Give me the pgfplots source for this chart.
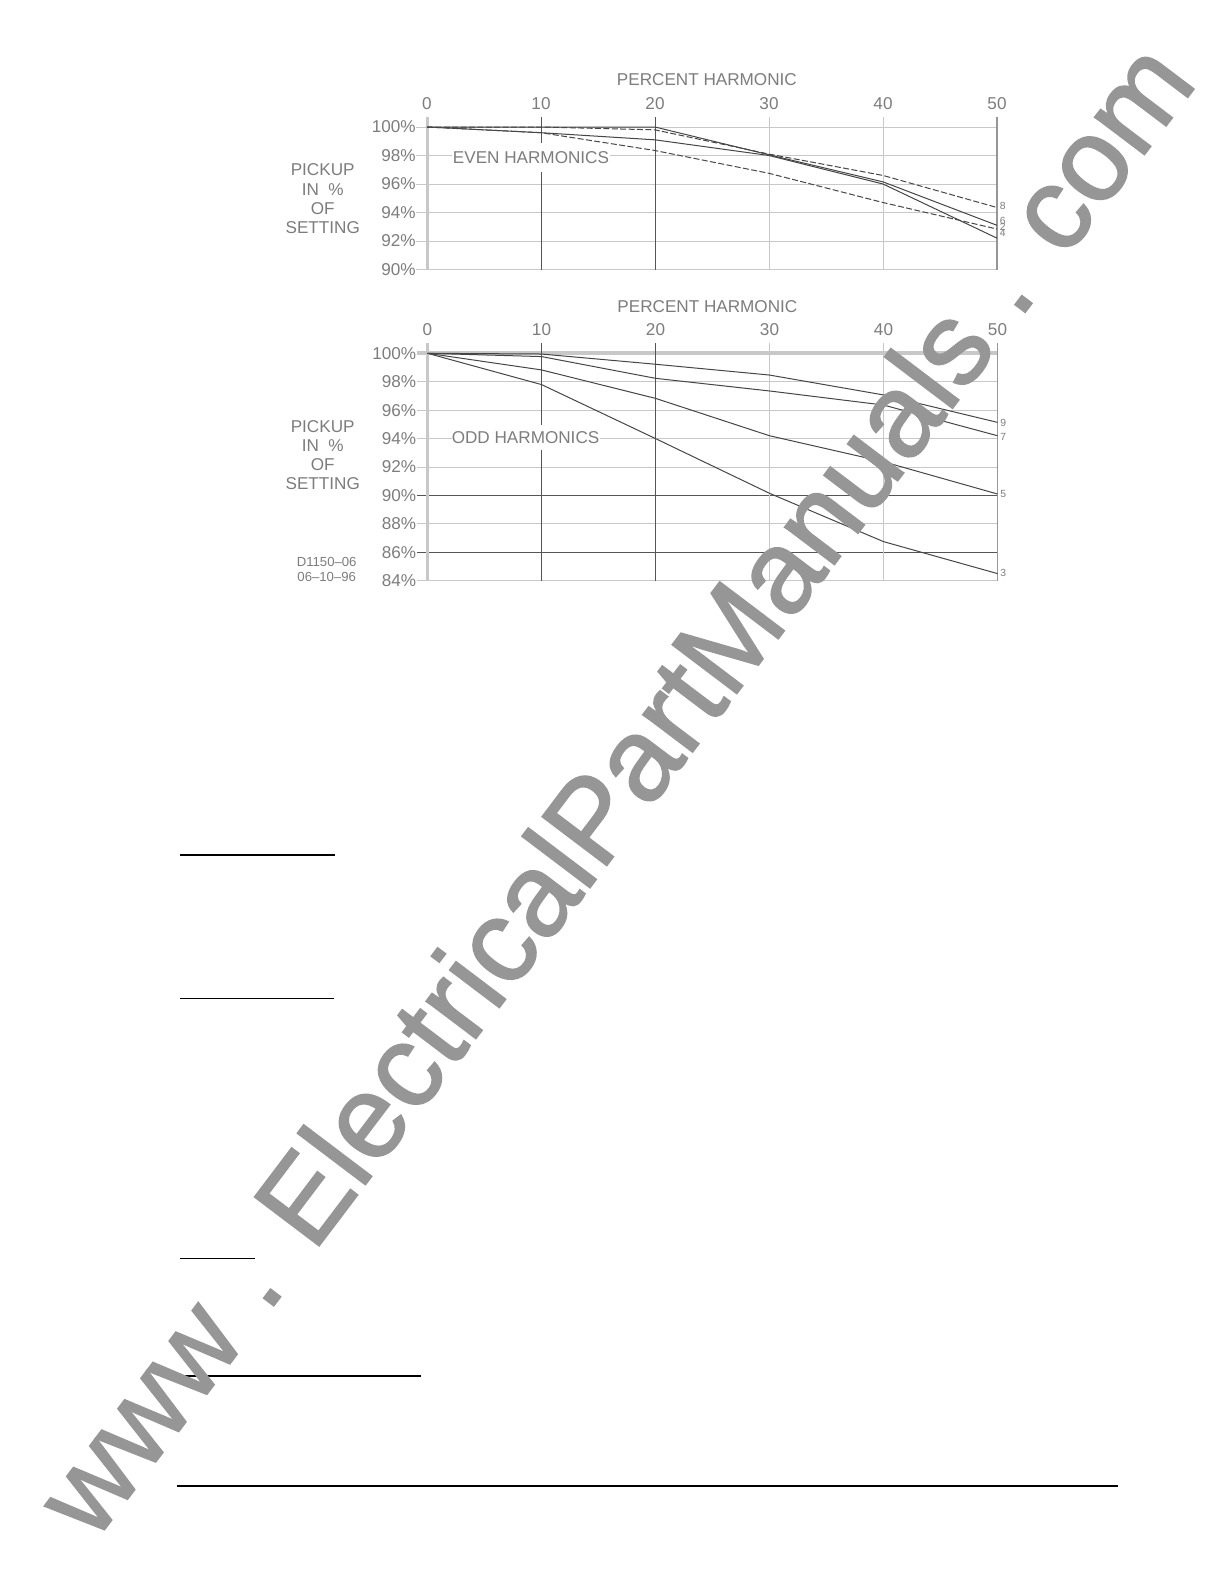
\documentclass[border=0pt]{standalone}
\usepackage{fontspec}
\setmainfont{Liberation Sans}
\newfontfamily\wmfont[FakeBold=1.4]{Liberation Sans}
\usepackage{pgfplots}
\pgfplotsset{compat=1.18}

\definecolor{gridlight}{RGB}{200,200,200}
\definecolor{griddark}{RGB}{85,85,85}
\definecolor{gridmid}{RGB}{150,150,150}
\definecolor{curve}{RGB}{70,70,70}
\definecolor{txt}{RGB}{125,125,125}
\definecolor{wm}{RGB}{150,150,150}

\newcommand{\lab}{\fontsize{8.6}{10}\selectfont}

\pgfplotsset{
  harm/.style={
    scale only axis, width=285bp, clip=false,
    xmin=0, xmax=50, xtick={0,10,20,30,40,50},
    xticklabels={0,10,20,30,40,50},
    axis line style={draw=none}, major tick length=0pt,
    tick label style={font=\lab, text=txt},
    xticklabel pos=upper,
    xticklabel style={anchor=center, yshift=11.75bp},
    yticklabel style={anchor=east, inner sep=0pt, xshift=-5.5bp},
  },
}
\tikzset{
  dsh/.style={curve, line width=0.5bp, dash pattern=on 3bp off 1.2bp},
  sol/.style={curve, line width=0.5bp},
  cl/.style={anchor=west, inner sep=0pt, xshift=1.2bp, text=txt, font=\fontsize{5.2}{6}\selectfont},
}

\begin{document}
\begin{tikzpicture}
\fill[white] (0,0) rectangle (612bp,-792bp);
\useasboundingbox (0,0) rectangle (612bp,-792bp);

% ---- even harmonics ----
\begin{axis}[harm, at={(213.5bp,-63.5bp)}, anchor=north west, height=71.25bp,
  ymin=90, ymax=100, ytick={90,92,94,96,98,100},
  yticklabels={90\%,92\%,94\%,96\%,98\%,100\%}]
\pgfplotsinvokeforeach{90,92,94,96,98,100}{
  \draw[gridlight, line width=0.5bp] ([xshift=-5.5bp]axis cs:0,#1) -- (axis cs:50,#1);
}
\draw[gridlight, line width=1.5bp] ([yshift=5bp]axis cs:0,100) -- (axis cs:0,90);
\draw[griddark, line width=0.5bp] ([yshift=5bp]axis cs:10,100) -- (axis cs:10,90);
\draw[griddark, line width=0.5bp] ([yshift=5bp]axis cs:20,100) -- (axis cs:20,90);
\draw[gridlight, line width=0.5bp] ([yshift=5bp]axis cs:30,100) -- (axis cs:30,90);
\draw[gridlight, line width=0.5bp] ([yshift=5bp]axis cs:40,100) -- (axis cs:40,90);
\draw[gridmid, line width=0.6bp] ([yshift=5bp]axis cs:50,100) -- (axis cs:50,90);
\node[fill=white, inner sep=0pt, minimum width=79bp, minimum height=14.3bp, text=txt, font=\lab]
  at (axis cs:9.12,97.85) {EVEN HARMONICS};
\node[font=\lab, text=txt, yshift=23.6bp] at (rel axis cs:0.491,1) {PERCENT HARMONIC};

% 2nd harmonic
\addplot[dsh] coordinates {(0,100) (10,99.6) (20,98.35) (30,96.75) (40,94.7) (50,92.84)};
% 4th harmonic
\addplot[sol] coordinates {(0,100) (10,99.6) (20,99.1) (30,98.0) (40,96.0) (50,92.2)};
% 6th harmonic
\addplot[sol] coordinates {(0,100) (10,100) (20,100) (30,98.05) (40,96.15) (50,93.1)};
% 8th harmonic
\addplot[dsh] coordinates {(0,100) (10,100) (20,99.8) (30,98.1) (40,96.6) (50,94.35)};

\node[cl] at (axis cs:50,94.46) {8};
\node[cl] at (axis cs:50,93.38) {6};
\node[cl] at (axis cs:50,92.96) {2};
\node[cl] at (axis cs:50,92.54) {4};
\end{axis}

% ---- odd harmonics ----
\begin{axis}[harm, at={(213.75bp,-176.65bp)}, anchor=north west, height=113.7bp,
  ymin=84, ymax=100, ytick={84,86,88,90,92,94,96,98,100},
  yticklabels={84\%,86\%,88\%,90\%,92\%,94\%,96\%,98\%,100\%}]
\pgfplotsinvokeforeach{84,88,92,94,96,98}{
  \draw[gridlight, line width=0.5bp] ([xshift=-5.5bp]axis cs:0,#1) -- (axis cs:50,#1);
}
\draw[griddark, line width=0.5bp] ([xshift=-5.5bp]axis cs:0,90) -- (axis cs:50,90);
\draw[griddark, line width=0.5bp] ([xshift=-5.5bp]axis cs:0,86) -- (axis cs:50,86);
\draw[gridlight, line width=2bp] ([xshift=-5.5bp]axis cs:0,100) -- (axis cs:50,100);
\draw[gridlight, line width=1.5bp] ([yshift=5bp]axis cs:0,100) -- (axis cs:0,84);
\draw[griddark, line width=0.5bp] ([yshift=5bp]axis cs:10,100) -- (axis cs:10,84);
\draw[griddark, line width=0.5bp] ([yshift=5bp]axis cs:20,100) -- (axis cs:20,84);
\draw[gridlight, line width=0.5bp] ([yshift=5bp]axis cs:30,100) -- (axis cs:30,84);
\draw[gridlight, line width=0.5bp] ([yshift=5bp]axis cs:40,100) -- (axis cs:40,84);
\draw[gridmid, line width=0.6bp] ([yshift=5bp]axis cs:50,100) -- (axis cs:50,84);
\node[fill=white, inner sep=0pt, minimum width=74bp, minimum height=12.5bp, text=txt, font=\lab]
  at (axis cs:8.6,94.07) {ODD HARMONICS};
\node[font=\lab, text=txt, yshift=23.6bp] at (rel axis cs:0.491,1) {PERCENT HARMONIC};

% 3rd harmonic
\addplot[sol] coordinates {(0,100) (10,97.8) (20,94.0) (30,90.15) (40,86.75) (50,84.5)};
% 5th harmonic
\addplot[sol] coordinates {(0,100) (10,98.83) (20,96.83) (30,94.2) (40,92.37) (50,90.1)};
% 7th harmonic
\addplot[sol] coordinates {(0,100) (10,99.77) (20,98.24) (30,97.35) (40,96.36) (50,94.2)};
% 9th harmonic
\addplot[sol] coordinates {(0,100) (10,99.95) (20,99.23) (30,98.47) (40,97.07) (50,95.14)};

\node[cl] at (axis cs:50,95.07) {9};
\node[cl] at (axis cs:50,94.13) {7};
\node[cl] at (axis cs:50,90.1) {5};
\node[cl] at (axis cs:50,84.52) {3};
\end{axis}

% side labels
\begin{scope}[every node/.style={font=\lab, text=txt, inner sep=0pt}]
\node at (161.35bp,-85bp) {PICKUP};
\node at (161.35bp,-95bp) {IN\ \ \%};
\node at (161.35bp,-104.5bp) {OF};
\node at (161.35bp,-114bp) {SETTING};
\node at (161.35bp,-213.35bp) {PICKUP};
\node at (161.35bp,-223bp) {IN\ \ \%};
\node at (161.35bp,-232.5bp) {OF};
\node at (161.35bp,-241.65bp) {SETTING};
\end{scope}
\node[font=\fontsize{6.6}{7}\selectfont, text=txt, inner sep=0pt] at (163.35bp,-281.15bp) {D1150--06};
\node[font=\fontsize{6.6}{7}\selectfont, text=txt, inner sep=0pt] at (163.35bp,-288.35bp) {06--10--96};

% rules further down the page
\draw[line width=0.6bp] (90bp,-427.5bp) -- (167.5bp,-427.5bp);
\draw[line width=0.6bp] (90bp,-499.15bp) -- (166.85bp,-499.15bp);
\draw[line width=0.6bp] (90bp,-629.15bp) -- (127.5bp,-629.15bp);
\draw[line width=0.6bp] (90bp,-688bp) -- (210.35bp,-688bp);
\draw[line width=0.6bp] (88.35bp,-743bp) -- (559bp,-743bp);

% watermark
\node[rotate=52.9, anchor=base, text=wm, inner sep=0pt, font=\wmfont\fontsize{59}{60}\selectfont]
  at (323.2bp,-406.5bp) {www . ElectricalPartManuals . com};
\end{tikzpicture}
\end{document}
